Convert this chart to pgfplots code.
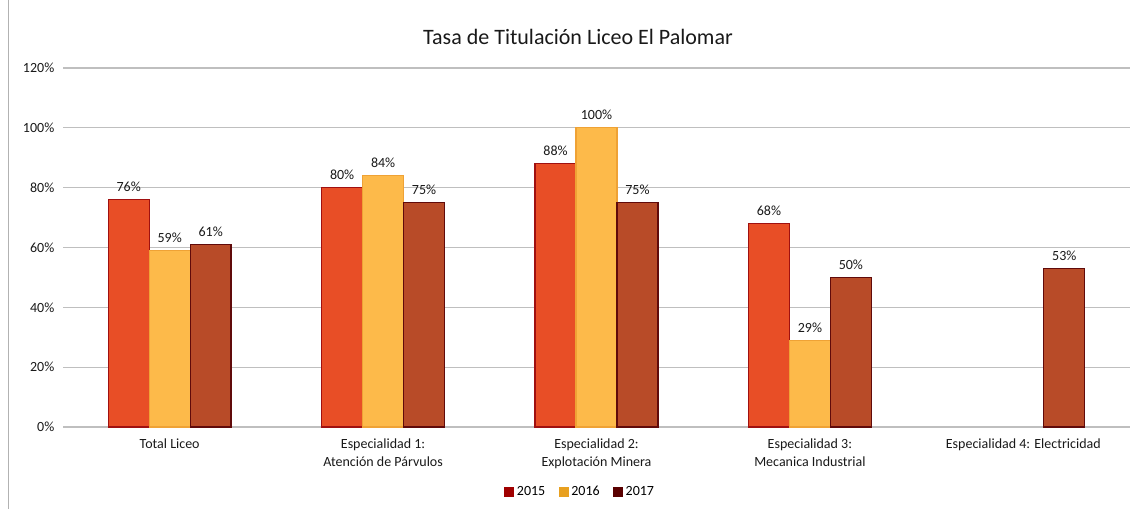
\documentclass[border=0pt]{standalone}
\usepackage{pgfplots}
\pgfplotsset{compat=1.18}
\usepackage{fontspec}
\setmainfont{Carlito}
\definecolor{f15}{HTML}{E84E26}
\definecolor{e15}{HTML}{A01010}
\definecolor{f16}{HTML}{FDBA4A}
\definecolor{e16}{HTML}{EFA235}
\definecolor{f17}{HTML}{B84B28}
\definecolor{e17}{HTML}{600A0A}
\definecolor{l15}{HTML}{A00000}
\definecolor{l16}{HTML}{E8A020}
\definecolor{l17}{HTML}{5A0000}
\begin{document}
\begin{tikzpicture}[x=0.75pt,y=0.75pt]
\useasboundingbox (0,0) rectangle (1135,509);
\draw[black!30, line width=0.75pt] (8,0) -- (8,509);
\node[font=\fontsize{16.5}{19}\selectfont, text=black!90] at (578,472) {Tasa de Titulación Liceo El Palomar};
\begin{axis}[
  at={(47.25pt,61.5pt)}, anchor=south west,
  scale only axis, width=800.25pt, height=269.25pt,
  xmin=-0.5, xmax=4.5, ymin=0, ymax=120,
  ybar=0pt, bar width=0.192,
  xtick={0,1,2,3,4},
  xticklabels={Total Liceo, {Especialidad 1:\\Atención de Párvulos}, {Especialidad 2:\\Explotación Minera}, {Especialidad 3:\\Mecanica Industrial}, {Especialidad 4: Electricidad}},
  xticklabel style={align=center, font=\fontsize{10.5}{13.5}\selectfont, text=black!90, yshift=-1pt},
  ytick={0,20,...,120},
  yticklabel={\pgfmathprintnumber{\tick}\%},
  yticklabel style={font=\fontsize{10.5}{12}\selectfont, text=black!90, xshift=-3pt},
  /pgf/number format/assume math mode=true,
  ymajorgrids, grid style={black!25, line width=0.9pt},
  axis line style={draw=none}, tick style={draw=none},
  nodes near coords={\pgfmathprintnumber{\pgfplotspointmeta}\%},
  nodes near coords style={font=\fontsize{10.5}{12}\selectfont, text=black!90, yshift=2pt},
  legend columns=3,
  legend style={at={(0.485,-0.181)}, anchor=center, draw=none, font=\fontsize{10.5}{12}\selectfont,
    /tikz/every even column/.append style={column sep=8pt}},
  clip=false,
]
\addplot[fill=f15, draw=e15, line width=1pt, legend image code/.code={\fill[l15] (0pt,-3pt) rectangle (6.5pt,3.5pt);}] coordinates {(0,76) (1,80) (2,88) (3,68)};
\addplot[fill=f16, draw=e16, line width=1pt, legend image code/.code={\fill[l16] (0pt,-3pt) rectangle (6.5pt,3.5pt);}] coordinates {(0,59) (1,84) (2,100) (3,29)};
\addplot[fill=f17, draw=e17, line width=1pt, legend image code/.code={\fill[l17] (0pt,-3pt) rectangle (6.5pt,3.5pt);}] coordinates {(0,61) (1,75) (2,75) (3,50) (4,53)};
\legend{2015,2016,2017}
\end{axis}
\end{tikzpicture}
\end{document}
